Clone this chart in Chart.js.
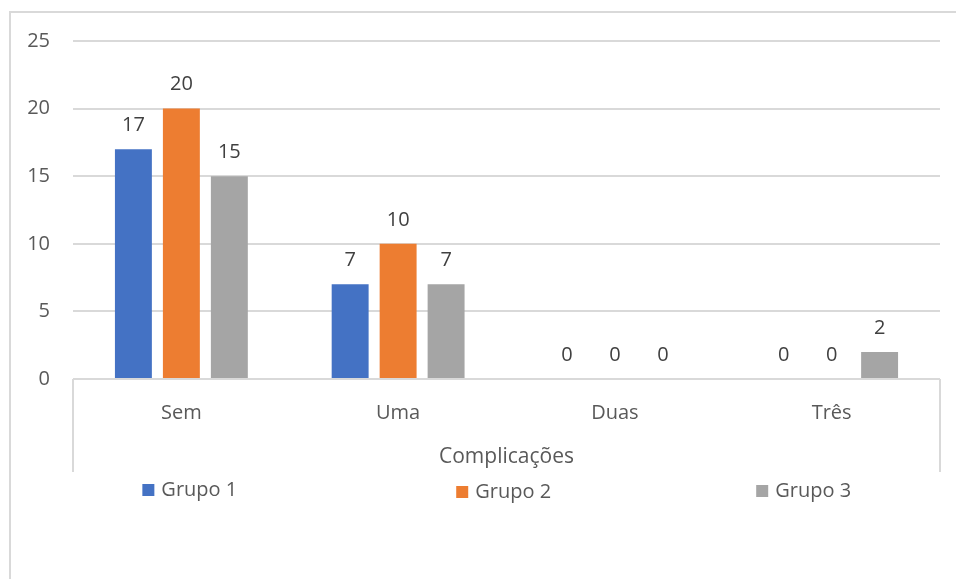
<!DOCTYPE html>
<html>
<head>
<meta charset="utf-8">
<script src="https://cdn.jsdelivr.net/npm/chart.js@4/dist/chart.umd.min.js"></script>
<style>
  html, body { margin: 0; padding: 0; background: #fff; }
  #wrap { position: relative; width: 956px; height: 579px; overflow: hidden; }
  #frame { position: absolute; left: 9px; top: 11px; width: 960px; height: 600px;
           border-top: 2px solid #D9D9D9; border-left: 2px solid #D9D9D9; box-sizing: border-box; pointer-events: none; }
  canvas { position: absolute; left: 0; top: 0; }
</style>
</head>
<body>
<div id="wrap">
  <canvas id="c" width="956" height="579"></canvas>
  <div id="frame"></div>
</div>
<script>
const categories = ["Sem", "Uma", "Duas", "Três"];
const grupo1 = [17, 7, 0, 0];
const grupo2 = [20, 10, 0, 0];
const grupo3 = [15, 7, 0, 2];
const seriesNames = ["Grupo 1", "Grupo 2", "Grupo 3"];
const yTicks = [0, 5, 10, 15, 20, 25];
const axisTitle = "Complicações";

const FONT = "'Open Sans', 'Noto Sans', sans-serif";

const valueLabels = {
  id: 'valueLabels',
  afterDatasetsDraw(chart) {
    const ctx = chart.ctx;
    ctx.save();
    ctx.font = "20px " + FONT;
    ctx.fillStyle = "#404040";
    ctx.textAlign = "center";
    ctx.textBaseline = "middle";
    chart.data.datasets.forEach((ds, i) => {
      chart.getDatasetMeta(i).data.forEach((bar, j) => {
        ctx.fillText(String(ds.data[j]), bar.x, bar.y - 24);
      });
    });
    ctx.restore();
  }
};

const axisBox = {
  id: 'axisBox',
  beforeDatasetsDraw(chart) {
    const ctx = chart.ctx;
    const a = chart.chartArea;
    ctx.save();
    ctx.strokeStyle = "#D9D9D9";
    ctx.lineWidth = 2;
    ctx.beginPath();
    ctx.moveTo(a.left, a.bottom); ctx.lineTo(a.left, a.bottom + 93);
    ctx.moveTo(a.right, a.bottom); ctx.lineTo(a.right, a.bottom + 93);
    ctx.stroke();
    ctx.restore();
  }
};

// Legend below the axis title, items spread across the plot width
const legendSpread = [0.080, 0.442, 0.788];
const legendDrop = [0, 2, 1];
const spreadLegend = {
  id: 'spreadLegend',
  afterDraw(chart) {
    const ctx = chart.ctx;
    const a = chart.chartArea;
    ctx.save();
    ctx.font = "20px " + FONT;
    ctx.textBaseline = "middle";
    ctx.textAlign = "left";
    chart.data.datasets.forEach((ds, i) => {
      const x = a.left + legendSpread[i] * (a.right - a.left);
      const y = a.bottom + 111 + legendDrop[i];
      ctx.fillStyle = ds.backgroundColor;
      ctx.fillRect(x, y - 6, 12, 12);
      ctx.fillStyle = "#595959";
      ctx.fillText(ds.label, x + 19, y);
    });
    ctx.restore();
  }
};

new Chart(document.getElementById('c'), {
  type: 'bar',
  data: {
    labels: categories,
    datasets: [
      { label: seriesNames[0], data: grupo1, backgroundColor: "#4472C4" },
      { label: seriesNames[1], data: grupo2, backgroundColor: "#ED7D31" },
      { label: seriesNames[2], data: grupo3, backgroundColor: "#A5A5A5" }
    ]
  },
  options: {
    responsive: false,
    animation: false,
    events: [],
    layout: { padding: { left: 0, right: 16, top: 41, bottom: 109 } },
    datasets: { bar: { categoryPercentage: 0.664, barPercentage: 0.77 } },
    scales: {
      x: {
        grid: { display: false },
        border: { display: false },
        ticks: { font: { family: FONT, size: 20 }, color: "#595959", padding: 14 },
        title: { display: true, text: axisTitle, font: { family: FONT, size: 21 }, color: "#595959", padding: { top: 10, bottom: 0 } },
        afterFit(scale) { scale.height = 91; }
      },
      y: {
        min: 0, max: 25,
        afterBuildTicks(scale) { scale.ticks = yTicks.map(v => ({ value: v })); },
        grid: { color: "#D9D9D9", lineWidth: 2, drawTicks: false },
        border: { display: false },
        ticks: { font: { family: FONT, size: 20 }, color: "#595959", padding: 23 },
        afterFit(scale) { scale.width = 73; }
      }
    },
    plugins: {
      legend: { display: false },
      tooltip: { enabled: false }
    }
  },
  plugins: [valueLabels, axisBox, spreadLegend]
});
</script>
</body>
</html>
